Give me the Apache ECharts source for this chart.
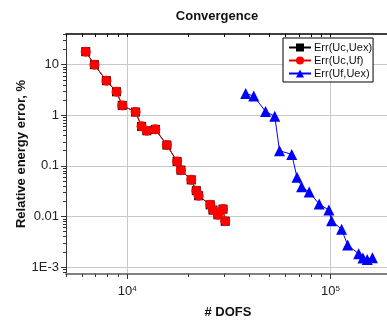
<!DOCTYPE html>
<html>
<head>
<meta charset="utf-8">
<script src="https://cdn.jsdelivr.net/npm/echarts@6/dist/echarts.min.js"></script>
<style>
  html, body { margin: 0; padding: 0; background: #fff; }
  #chart { width: 387px; height: 320px; }
</style>
</head>
<body>
<div id="chart"></div>
<script>
// DOFS / error values
const dofsUc = [6250, 6900, 7900, 8860, 9450, 10990, 11760, 12490, 13740, 15670,
  17590, 18370, 20650, 21870, 22440, 25590, 26410, 27920, 29580, 30330]
const errUcUex = [18.1, 10.0, 4.83, 2.92, 1.57, 1.16, 0.605, 0.495, 0.528, 0.258,
  0.122, 0.0824, 0.053, 0.0323, 0.0257, 0.017, 0.0134, 0.0108, 0.014, 0.00805]
const errUcUf = [18.1, 10.0, 4.83, 2.92, 1.57, 1.16, 0.605, 0.495, 0.528, 0.258,
  0.122, 0.0824, 0.053, 0.0323, 0.0257, 0.017, 0.0134, 0.0108, 0.014, 0.00805]

const dofsUf = [38260, 41890, 47900, 53160, 56100, 64450, 68390, 72060, 78480, 87900,
  98080, 101160, 113300, 121300, 137500, 144300, 151400, 160700]
const errUfUex = [2.7, 2.4, 1.19, 0.955, 0.1995, 0.169, 0.0594, 0.0387, 0.0304, 0.0176,
  0.0134, 0.00823, 0.00559, 0.00272, 0.00183, 0.00152, 0.00142, 0.00153]

// ticks
const xMajor = [1e4, 1e5]
const xMinor = [5000, 6000, 7000, 8000, 9000, 2e4, 3e4, 4e4, 5e4, 6e4, 7e4, 8e4, 9e4]
const yMajor = [0.001, 0.01, 0.1, 1, 10]
const yMajorLabels = ['1E-3', '0.01', '0.1', '1', '10']
const yMinor = [8e-4, 9e-4, 2e-3, 3e-3, 4e-3, 5e-3, 6e-3, 7e-3, 8e-3, 9e-3,
  0.02, 0.03, 0.04, 0.05, 0.06, 0.07, 0.08, 0.09, 0.2, 0.3, 0.4, 0.5, 0.6, 0.7, 0.8, 0.9,
  2, 3, 4, 5, 6, 7, 8, 9, 20, 30, 40]

const xMin = 5000
const xMax = 196000
const yMin = 0.00073
const yMax = 40.5

const font = 'Liberation Sans, Arial, sans-serif'

const pairs = (xs, ys) => xs.map((x, i) => [x, ys[i]])

const xBase = {
  type: 'log', min: xMin, max: xMax, gridIndex: 0,
  axisLabel: { show: false }, splitLine: { show: false },
  axisLine: { show: false }, axisTick: { show: false },
}
const yBase = {
  type: 'log', min: yMin, max: yMax, gridIndex: 0,
  axisLabel: { show: false }, splitLine: { show: false },
  axisLine: { show: false }, axisTick: { show: false },
}

const option = {
  animation: false,
  backgroundColor: '#fff',
  title: {
    text: 'Convergence',
    left: 212, top: 5, textAlign: 'center',
    textStyle: { fontFamily: font, fontSize: 13, fontWeight: 'bold', color: '#111' },
  },
  legend: {
    orient: 'vertical',
    left: 283, top: 38,
    padding: [4, 1, 3, 5],
    itemGap: 2,
    itemWidth: 22, itemHeight: 10,
    borderColor: '#000', borderWidth: 1,
    backgroundColor: '#fff',
    textStyle: { fontFamily: font, fontSize: 11, color: '#111', padding: [0, 0, 0, -2] },
    data: ['Err(Uc,Uex)', 'Err(Uc,Uf)', 'Err(Uf,Uex)'],
  },
  grid: { left: 66, top: 34, width: 324, height: 240, containLabel: false, outerBoundsMode: 'none' },
  xAxis: [
    {
      ...xBase,
      position: 'bottom',
      name: '# DOFS', nameLocation: 'middle', nameGap: 32, nameMoveOverlap: false,
      nameTextStyle: { fontFamily: font, fontSize: 13, fontWeight: 'bold', color: '#111' },
      axisLine: { show: true, onZero: false, lineStyle: { color: '#808080', width: 2 } },
      axisTick: { show: true, customValues: xMajor, length: 5, lineStyle: { color: '#333' } },
      axisLabel: {
        show: true, customValues: xMajor, margin: 8, padding: [3, 0, 0, 0],
        formatter: (v) => '{b|10}{s|' + Math.round(Math.log10(v)) + '}',
        rich: {
          b: { fontFamily: font, fontSize: 13, color: '#222' },
          s: { fontFamily: font, fontSize: 8, color: '#222', verticalAlign: 'top' },
        },
      },
      splitLine: { show: true, lineStyle: { color: '#c8c8c8', width: 1 } },
    },
    {
      ...xBase,
      position: 'bottom',
      axisTick: { show: true, customValues: xMinor, length: 3, lineStyle: { color: '#333' } },
    },
    {
      ...xBase,
      position: 'top',
      axisLine: { show: true, onZero: false, lineStyle: { color: '#000', width: 1.5 } },
      axisTick: { show: true, inside: true, customValues: xMinor.concat(xMajor), length: 3, lineStyle: { color: '#000' } },
    },
  ],
  yAxis: [
    {
      ...yBase,
      position: 'left',
      name: 'Relative energy error, %', nameLocation: 'middle', nameGap: 38, nameMoveOverlap: false,
      nameTextStyle: { fontFamily: font, fontSize: 13, fontWeight: 'bold', color: '#111' },
      axisLine: { show: true, onZero: false, lineStyle: { color: '#333', width: 1 } },
      axisTick: { show: true, customValues: yMajor, length: 5, lineStyle: { color: '#333' } },
      axisLabel: {
        show: true, customValues: yMajor, margin: 7,
        fontFamily: font, fontSize: 13, color: '#222',
        formatter: (v) => yMajorLabels[Math.round(Math.log10(v)) + 3],
      },
      splitLine: { show: true, lineStyle: { color: '#c8c8c8', width: 1 } },
    },
    {
      ...yBase,
      position: 'left',
      axisTick: { show: true, customValues: yMinor, length: 3, lineStyle: { color: '#333' } },
    },
  ],
  series: [
    {
      name: 'Err(Uc,Uex)', type: 'line', xAxisIndex: 0, yAxisIndex: 0,
      data: pairs(dofsUc, errUcUex),
      symbol: 'rect', symbolSize: 9,
      itemStyle: { color: '#000' },
      lineStyle: { color: '#000', width: 1 },
      z: 2,
    },
    {
      name: 'Err(Uc,Uf)', type: 'line', xAxisIndex: 0, yAxisIndex: 0,
      data: pairs(dofsUc, errUcUf),
      symbol: 'circle', symbolSize: 10,
      itemStyle: { color: '#ff0000' },
      lineStyle: { color: '#dd0000', width: 1 },
      z: 3,
    },
    {
      name: 'Err(Uf,Uex)', type: 'line', xAxisIndex: 0, yAxisIndex: 0,
      data: pairs(dofsUf, errUfUex),
      symbol: 'triangle', symbolSize: 11,
      itemStyle: { color: '#0000ff' },
      lineStyle: { color: '#0000ff', width: 1 },
      z: 3,
    },
  ],
}

const chart = echarts.init(document.getElementById('chart'), null, { renderer: 'canvas' })
chart.setOption(option)
</script>
</body>
</html>
